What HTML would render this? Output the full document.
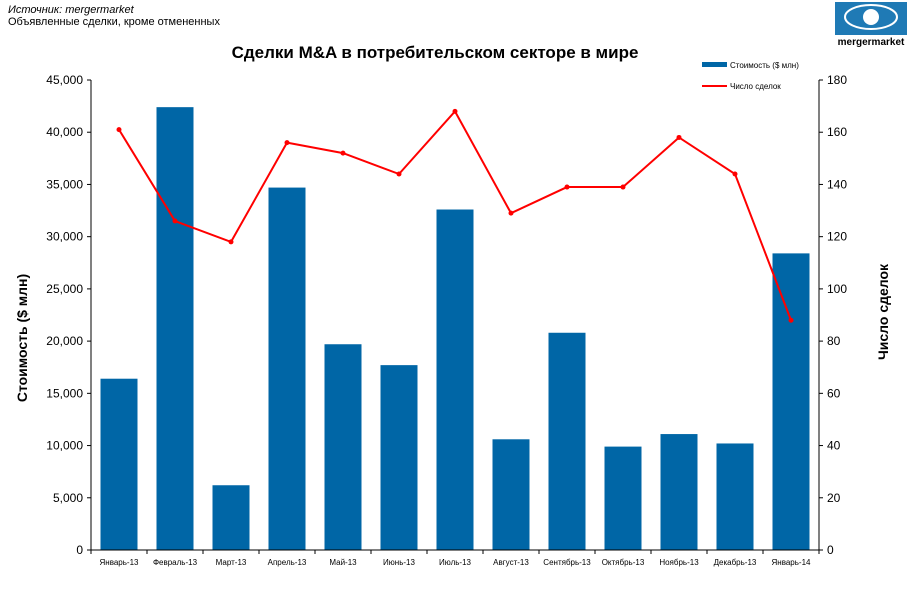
<!DOCTYPE html>
<html><head><meta charset="utf-8"><style>
body{margin:0;background:#fff;font-family:"Liberation Sans",sans-serif}
svg text{font-family:"Liberation Sans",sans-serif}
</style></head><body>
<svg id="c" width="907" height="593" xmlns="http://www.w3.org/2000/svg">
<text x="8" y="13" font-size="11" font-style="italic">Источник: mergermarket</text>
<text x="8" y="25" font-size="11">Объявленные сделки, кроме отмененных</text>
<g>
<rect x="835" y="2" width="72" height="33" fill="#1f7ab5"/>
<ellipse cx="871" cy="17" rx="26" ry="12" fill="none" stroke="#fff" stroke-width="2"/>
<circle cx="871" cy="17" r="8" fill="#fff"/>
<text x="871" y="45" font-size="10" font-weight="bold" text-anchor="middle">mergermarket</text>
</g>
<text x="435" y="58" font-size="17" font-weight="bold" text-anchor="middle">Сделки M&amp;A в потребительском секторе в мире</text>
<g>
<rect x="702" y="62" width="25" height="5" fill="#0066a6"/>
<text x="730" y="68" font-size="8">Стоимость ($ млн)</text>
<line x1="702" y1="86" x2="727" y2="86" stroke="red" stroke-width="2"/>
<text x="730" y="89" font-size="8">Число сделок</text>
</g>
<text transform="translate(27,338) rotate(-90)" font-size="14" font-weight="bold" text-anchor="middle">Стоимость ($ млн)</text>
<text transform="translate(888,312) rotate(-90)" font-size="14" font-weight="bold" text-anchor="middle">Число сделок</text>
<g id="plot"></g>
</svg>
<script>
const categories=["Январь-13","Февраль-13","Март-13","Апрель-13","Май-13","Июнь-13","Июль-13","Август-13","Сентябрь-13","Октябрь-13","Ноябрь-13","Декабрь-13","Январь-14"];
const values=[16400,42400,6200,34700,19700,17700,32600,10600,20800,9900,11100,10200,28400];
const counts=[161,126,118,156,152,144,168,129,139,139,158,144,88];
const leftTicks=[0,5000,10000,15000,20000,25000,30000,35000,40000,45000];
const rightTicks=[0,20,40,60,80,100,120,140,160,180];
const NS="http://www.w3.org/2000/svg";
const g=document.getElementById('plot');
const X0=91,X1=819,Y0=550,Y1=80;
const bw=(X1-X0)/categories.length;
const yL=v=>Y0-(v/45000)*(Y0-Y1);
const yR=v=>Y0-(v/180)*(Y0-Y1);
const xc=i=>X0+bw*(i+0.5);
function mk(t,a){const e=document.createElementNS(NS,t);for(const k in a)e.setAttribute(k,a[k]);g.appendChild(e);return e;}
values.forEach((v,i)=>{
const r=mk('rect',{x:xc(i)-18.5,y:yL(v),width:37,height:Y0-yL(v),fill:'#0066a6'});


const t=mk('text',{x:xc(i),y:565,'font-size':8,'text-anchor':'middle'});t.textContent=categories[i];


});
mk('line',{x1:X0,y1:Y1,x2:X0,y2:Y0,stroke:'#000'});
mk('line',{x1:X1,y1:Y1,x2:X1,y2:Y0,stroke:'#000'});
mk('line',{x1:X0-4,y1:Y0,x2:X1+4,y2:Y0,stroke:'#000'});
for(let i=0;i<=categories.length;i++)mk('line',{x1:X0+bw*i,y1:Y0,x2:X0+bw*i,y2:Y0+4,stroke:'#000'});
leftTicks.forEach(v=>{mk('line',{x1:X0-4,y1:yL(v),x2:X0,y2:yL(v),stroke:'#000'});
const t=mk('text',{x:X0-8,y:yL(v)+4,'font-size':12,'text-anchor':'end'});t.textContent=v.toLocaleString('en-US');

});
rightTicks.forEach(v=>{mk('line',{x1:X1,y1:yR(v),x2:X1+4,y2:yR(v),stroke:'#000'});
const t=mk('text',{x:X1+8,y:yR(v)+4,'font-size':12});t.textContent=v;

});
const pl=mk('polyline',{points:counts.map((v,i)=>xc(i)+','+yR(v)).join(' '),fill:'none',stroke:'red','stroke-width':2});


counts.forEach((v,i)=>{const m=mk('circle',{cx:xc(i),cy:yR(v),r:2.5,fill:'red'});

});
</script>
</body></html>
